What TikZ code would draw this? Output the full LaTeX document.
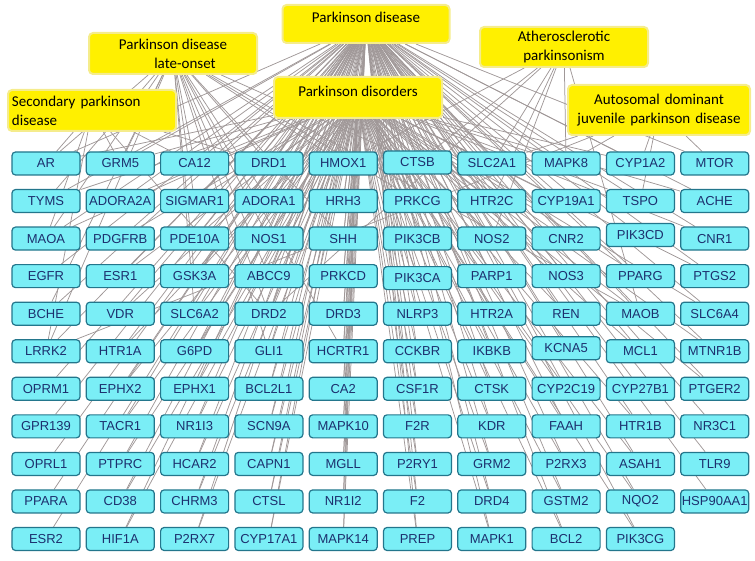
\documentclass[tikz,border=0pt]{standalone}
\usepackage{fontspec}
\newfontfamily\genefont{Liberation Sans}
\newfontfamily\diseasefont{Carlito}
\usetikzlibrary{backgrounds}
\definecolor{genefill}{RGB}{122,238,246}
\definecolor{geneline}{RGB}{35,118,140}
\definecolor{genetext}{RGB}{28,48,110}
\definecolor{pdfill}{RGB}{255,240,0}
\definecolor{pdline}{RGB}{245,236,140}
\definecolor{linkgray}{RGB}{160,152,152}
\begin{document}
\begin{tikzpicture}[x=1pt,y=-1pt,
    gene/.style={draw=geneline, fill=genefill, line width=1.2pt, rounded corners=3.5pt,
      minimum width=68pt, minimum height=23pt, inner sep=1pt, text=genetext,
      font=\genefont\fontsize{13}{15}\selectfont},
    disease/.style={draw=pdline, fill=pdfill, line width=2pt, rounded corners=4pt,
      inner xsep=4pt, font=\diseasefont\fontsize{15}{19}\selectfont},
    link/.style={draw=linkgray, line width=0.75pt},
    nudge CTSB/.style={yshift=1pt},
    nudge PIK3CD/.style={yshift=3.5pt},
    nudge PIK3CA/.style={yshift=-2pt},
    nudge KCNA5/.style={yshift=3pt}]
    \useasboundingbox (0,0) rectangle (755,561);

    % disease terms
    \node[disease, minimum width=167pt, inner ysep=3pt, text height=15pt, text depth=17pt] (pd) at (366,24) {Parkinson disease};
    \node[disease, minimum width=168pt, minimum height=41pt, align=center] (late) at (173,53.5) {Parkinson disease\\\hspace*{24pt}late-onset};
    \node[disease, text width=160pt, minimum height=41pt, align=left] (second) at (92,110.5) {Secondary parkinson\\disease};
    \node[disease, minimum width=168pt, inner ysep=3pt, text height=17pt, text depth=18pt] (pdis) at (358,97.5) {Parkinson disorders};
    \node[disease, minimum width=168pt, minimum height=40pt, align=center] (athero) at (564,47) {Atherosclerotic\\parkinsonism};
    \node[disease, text width=174pt, minimum height=50pt, align=center] (adj) at (659,110) {Autosomal dominant\\juvenile parkinson disease};

    % genes, one row per list
    \foreach \row [count=\r] in {
        {AR,GRM5,CA12,DRD1,HMOX1,CTSB,SLC2A1,MAPK8,CYP1A2,MTOR},
        {TYMS,ADORA2A,SIGMAR1,ADORA1,HRH3,PRKCG,HTR2C,CYP19A1,TSPO,ACHE},
        {MAOA,PDGFRB,PDE10A,NOS1,SHH,PIK3CB,NOS2,CNR2,PIK3CD,CNR1},
        {EGFR,ESR1,GSK3A,ABCC9,PRKCD,PIK3CA,PARP1,NOS3,PPARG,PTGS2},
        {BCHE,VDR,SLC6A2,DRD2,DRD3,NLRP3,HTR2A,REN,MAOB,SLC6A4},
        {LRRK2,HTR1A,G6PD,GLI1,HCRTR1,CCKBR,IKBKB,KCNA5,MCL1,MTNR1B},
        {OPRM1,EPHX2,EPHX1,BCL2L1,CA2,CSF1R,CTSK,CYP2C19,CYP27B1,PTGER2},
        {GPR139,TACR1,NR1I3,SCN9A,MAPK10,F2R,KDR,FAAH,HTR1B,NR3C1},
        {OPRL1,PTPRC,HCAR2,CAPN1,MGLL,P2RY1,GRM2,P2RX3,ASAH1,TLR9},
        {PPARA,CD38,CHRM3,CTSL,NR1I2,F2,DRD4,GSTM2,NQO2,HSP90AA1},
        {ESR2,HIF1A,P2RX7,CYP17A1,MAPK14,PREP,MAPK1,BCL2,PIK3CG}} {
      \foreach \g [count=\c] in \row {
        \node[gene, nudge \g/.try] (\g) at ({46+74.3*(\c-1)},{163.5+37.55*(\r-1)}) {\g};
        \begin{pgfonlayer}{background}
          \draw[link] (pd) -- (\g);
        \end{pgfonlayer}
      }
    }

    \begin{pgfonlayer}{background}
    \foreach \g in {AR,GRM5,CA12,DRD1,HMOX1,CTSB,SLC2A1,MAPK8,CYP1A2,
        TYMS,ADORA2A,SIGMAR1,ADORA1,HRH3,PRKCG,HTR2C,CYP19A1,TSPO,ACHE,
        MAOA,PDGFRB,PDE10A,NOS1,SHH,PIK3CB,NOS2,CNR2,CNR1,
        ESR1,GSK3A,ABCC9,PRKCD,PIK3CA,PARP1,NOS3,PPARG,PTGS2,
        VDR,SLC6A2,DRD2,DRD3,NLRP3,HTR2A,REN,MAOB,SLC6A4,
        HTR1A,G6PD,GLI1,HCRTR1,CCKBR,IKBKB,MCL1,MTNR1B,
        EPHX2,EPHX1,BCL2L1,CA2,CSF1R,CTSK,CYP2C19,PTGER2,
        TACR1,NR1I3,SCN9A,MAPK10,F2R,KDR,FAAH,HTR1B,
        PTPRC,HCAR2,CAPN1,MGLL,P2RY1,GRM2,P2RX3,ASAH1,
        CD38,CHRM3,CTSL,NR1I2,F2,DRD4,GSTM2,NQO2,
        HIF1A,P2RX7,CYP17A1,MAPK14,PREP,MAPK1,BCL2,PIK3CG}
      \draw[link] (pdis) -- (\g);
    \foreach \g in {AR,GRM5,CA12,DRD1,HMOX1,CTSB,TYMS,SIGMAR1,ADORA1,PRKCG,MAOA,NOS1,SHH,
        GSK3A,ABCC9,BCHE,SLC6A2,DRD2,LRRK2,GLI1,HCRTR1,MAOB}
      \draw[link] (late) -- (\g);
    \foreach \g in {AR,GRM5,CA12,DRD1,MAOA,DRD2,LRRK2}
      \draw[link] (second) -- (\g);
    \foreach \g in {HMOX1,CTSB,SLC2A1,MAPK8,HTR2C,NOS2,DRD2,MAOB}
      \draw[link] (athero) -- (\g);
    \foreach \g in {SLC2A1,MAPK8,CYP1A2,MTOR,TSPO,LRRK2}
      \draw[link] (adj) -- (\g);
    \end{pgfonlayer}
\end{tikzpicture}
\end{document}
